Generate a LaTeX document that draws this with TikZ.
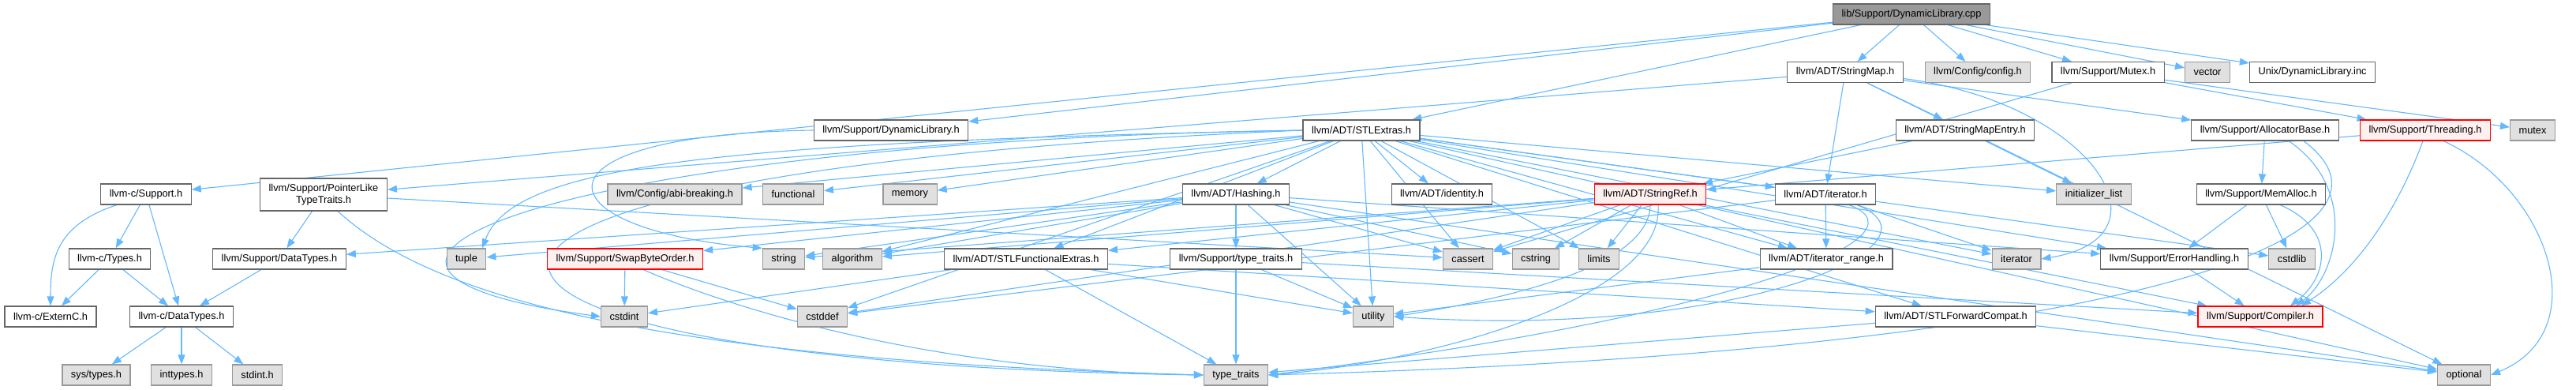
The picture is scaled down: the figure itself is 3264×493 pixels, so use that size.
\documentclass[tikz,border=0pt]{standalone}
\usepackage{fontspec}
\setmainfont{Liberation Sans}
\usetikzlibrary{arrows.meta,backgrounds}
\definecolor{edgeblue}{HTML}{63B8FF}
\definecolor{boxgray}{HTML}{666666}
\definecolor{sysdraw}{HTML}{999999}
\definecolor{sysfill}{HTML}{E0E0E0}
\definecolor{truncfill}{HTML}{FFF0F0}

\begin{document}
\begin{tikzpicture}[x=1pt,y=-1pt,
  hdr/.style={draw=boxgray,fill=white,line width=1.2pt,inner xsep=11pt,inner ysep=2pt,
    minimum height=26pt,font=\fontsize{12.8}{15}\selectfont},
  sys/.style={hdr,draw=sysdraw,fill=sysfill},
  trunc/.style={hdr,draw=red,fill=truncfill},
  root/.style={hdr,fill=sysdraw},
  dep/.style={edgeblue,line width=1.1pt,-{Triangle[length=12pt,width=9pt]}}]
\useasboundingbox (0,0) rectangle (3264,493);

% rank 0 and 1
\node[root] (cpp) at (2422,18) {lib/Support/DynamicLibrary.cpp};
\node[hdr] (smap) at (2338,91.5) {llvm/ADT/StringMap.h};
\node[sys] (config) at (2506,91.5) {llvm/Config/config.h};
\node[hdr] (mutexh) at (2671,91.5) {llvm/Support/Mutex.h};
\node[sys] (vector) at (2797,91.5) {vector};
\node[hdr] (unixinc) at (2930,91.5) {Unix/DynamicLibrary.inc};

% rank 2
\node[hdr] (dlh) at (1129,165) {llvm/Support/DynamicLibrary.h};
\node[hdr] (stlext) at (1725,165) {llvm/ADT/STLExtras.h};
\node[hdr] (smapentry) at (2490,165) {llvm/ADT/StringMapEntry.h};
\node[hdr] (allocb) at (2870,165) {llvm/Support/AllocatorBase.h};
\node[trunc] (thread) at (3073,165) {llvm/Support/Threading.h};
\node[sys] (mutex) at (3209,165) {mutex};

% rank 3
\node[hdr] (csupport) at (185,246) {llvm-c/Support.h};
\node[hdr,align=center,minimum height=41pt] (ptrlike) at (410,246.5) {llvm/Support/PointerLike\\TypeTraits.h};
\node[sys] (abibreak) at (855,246) {llvm/Config/abi-breaking.h};
\node[sys] (functional) at (1005,246) {functional};
\node[sys] (memory) at (1153,246) {memory};
\node[hdr] (hashing) at (1566,246) {llvm/ADT/Hashing.h};
\node[hdr] (identity) at (1827,246) {llvm/ADT/identity.h};
\node[trunc] (sref) at (2091,246) {llvm/ADT/StringRef.h};
\node[hdr] (iter) at (2313,246) {llvm/ADT/iterator.h};
\node[sys] (initlist) at (2653,246) {initializer\_list};
\node[hdr] (memalloc) at (2865,246) {llvm/Support/MemAlloc.h};

% rank 4
\node[hdr] (ctypes) at (139,328) {llvm-c/Types.h};
\node[hdr] (sdatatypes) at (354,328) {llvm/Support/DataTypes.h};
\node[sys] (tuple) at (591,328) {tuple};
\node[trunc] (swap) at (792,328) {llvm/Support/SwapByteOrder.h};
\node[sys] (string) at (993,328) {string};
\node[sys] (algorithm) at (1080,328) {algorithm};
\node[hdr] (stlfunc) at (1300,328) {llvm/ADT/STLFunctionalExtras.h};
\node[hdr] (typetraitsh) at (1566,328) {llvm/Support/type\_traits.h};
\node[sys] (cassert) at (1860,328) {cassert};
\node[sys] (cstring) at (1946,328) {cstring};
\node[sys] (limits) at (2026,328) {limits};
\node[hdr] (iterrange) at (2314,328) {llvm/ADT/iterator\_range.h};
\node[sys] (iterator) at (2555,328) {iterator};
\node[hdr] (errh) at (2755,328) {llvm/Support/ErrorHandling.h};
\node[sys] (cstdlib) at (2904,328) {cstdlib};

% rank 5
\node[hdr] (externc) at (64,401) {llvm-c/ExternC.h};
\node[hdr] (cdatatypes) at (230,401) {llvm-c/DataTypes.h};
\node[sys] (cstdint) at (791,401) {cstdint};
\node[sys] (cstddef) at (1042,401) {cstddef};
\node[sys] (utility) at (1740,401) {utility};
\node[hdr] (stlfwd) at (2478,401) {llvm/ADT/STLForwardCompat.h};
\node[trunc] (compiler) at (2864,401) {llvm/Support/Compiler.h};

% rank 6
\node[sys] (systypes) at (122,475) {sys/types.h};
\node[sys] (inttypes) at (230,475) {inttypes.h};
\node[sys] (stdint) at (326,475) {stdint.h};
\node[sys] (typetraits) at (1566,475) {type\_traits};
\node[sys] (optional) at (3122,475) {optional};

\begin{scope}[on background layer]
\foreach \s/\t in {cpp/dlh,cpp/csupport,cpp/stlext,cpp/smap,cpp/config,cpp/mutexh,cpp/vector,cpp/unixinc,
  smap/ptrlike,smap/smapentry,smap/iter,smap/allocb,smap/initlist,
  smapentry/sref,smapentry/optional,mutexh/thread,mutexh/cassert,mutexh/mutex,
  stlext/hashing,stlext/stlfwd,stlext/stlfunc,stlext/identity,stlext/iter,stlext/iterrange,
  stlext/abibreak,stlext/errh,stlext/algorithm,stlext/cassert,stlext/cstddef,
  stlext/cstdlib,stlext/functional,stlext/initlist,stlext/iterator,stlext/limits,stlext/memory,
  stlext/optional,stlext/utility,
  hashing/sdatatypes,hashing/errh,hashing/swap,hashing/typetraitsh,hashing/algorithm,
  hashing/cassert,hashing/cstring,hashing/optional,hashing/string,hashing/tuple,hashing/utility,
  sref/stlfunc,sref/iterrange,sref/compiler,sref/algorithm,sref/cassert,sref/cstddef,
  sref/cstring,sref/limits,sref/string,
  iter/iterrange,iter/cstddef,iter/iterator,
  allocb/memalloc,thread/sref,
  memalloc/errh,memalloc/cstdlib,
  ptrlike/sdatatypes,ptrlike/cassert,sdatatypes/cdatatypes,
  csupport/ctypes,csupport/cdatatypes,ctypes/externc,ctypes/cdatatypes,
  cdatatypes/systypes,cdatatypes/inttypes,cdatatypes/stdint,
  typetraitsh/compiler,typetraitsh/typetraits,typetraitsh/utility,
  stlfunc/stlfwd,stlfunc/cstdint,stlfunc/typetraits,stlfunc/utility,
  stlfwd/optional,stlfwd/typetraits,iterrange/utility,errh/compiler,
  swap/cstdint,swap/cstddef}
  \draw[dep] (\s) -- (\t);
% bent edges
\draw[dep] (dlh.west) .. controls (660,170) and (680,290) .. (string.north west);
\draw[dep] ([xshift=-37pt]csupport.south) .. controls (70,285) and (64,330) .. (externc.north);
\draw[dep] (stlext.west) .. controls (900,180) and (650,210) .. ([xshift=20pt]tuple.north);
\draw[dep] (stlext.west) .. controls (700,180) and (300,340) .. (cstdint.west);
\draw[dep] (stlext.west) .. controls (350,220) and (450,460) .. (typetraits.west);
\draw[dep] ([xshift=18pt]ptrlike.south) .. controls (540,370) and (800,455) .. (typetraits.west);
\draw[dep] ([xshift=23pt]swap.south) .. controls (950,400) and (1200,470) .. (typetraits.west);
\draw[dep] ([xshift=23pt]thread.south) .. controls (3230,240) and (3290,420) .. (optional.east);
\draw[dep] ([xshift=49pt]allocb.south) .. controls (3080,300) and (2700,445) .. (typetraits.east);
\draw[dep] ([xshift=30pt]allocb.south) .. controls (2990,240) and (2960,350) .. ([xshift=45pt]compiler.north);
\draw[dep] ([xshift=24pt]memalloc.south) .. controls (2960,290) and (2950,350) .. ([xshift=38pt]compiler.north);
\draw[dep] ([xshift=-3pt]thread.south) .. controls (3040,260) and (2990,340) .. ([xshift=52pt]compiler.north);
\draw[dep] ([xshift=30pt]iter.south) .. controls (2450,300) and (2200,400) .. (typetraits.east);
\draw[dep] ([xshift=40pt]iter.south) .. controls (2480,310) and (2200,430) .. (utility.east);
\draw[dep] (sref.south) .. controls (2090,340) and (1900,380) .. (utility.east);
\draw[dep] ([xshift=10pt]sref.south) .. controls (2110,380) and (1800,460) .. (typetraits.east);
\draw[dep] ([yshift=-8pt]smap.east) .. controls (2650,130) and (2760,300) .. (iterator.east);
\end{scope}
\end{tikzpicture}
\end{document}
